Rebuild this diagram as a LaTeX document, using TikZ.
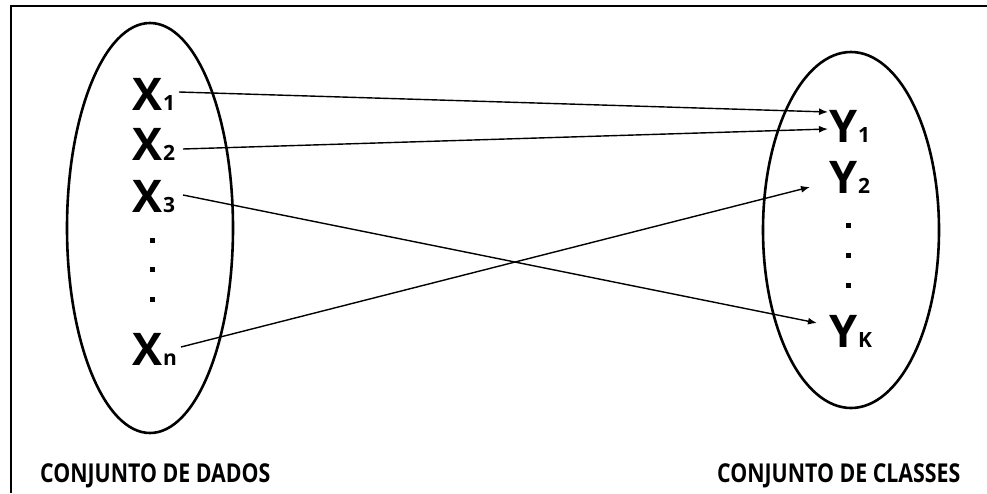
\documentclass[tikz,border=0pt]{standalone}
\usepackage{fontspec}
\setmainfont{Open Sans}
\usetikzlibrary{arrows.meta,shapes.geometric}
\newcommand{\bigsym}[2]{{\fontsize{45}{45}\selectfont #1}{\fontsize{21}{21}\selectfont\kern1pt #2}}
\tikzset{
  setshape/.style={draw=black, line width=2.6pt},
  sym/.style={anchor=base west, inner sep=0pt, outer sep=0pt, font=\bfseries},
  dotmark/.style={fill=black, rectangle, minimum size=5pt, inner sep=0pt},
  mapto/.style={line width=1.4pt, -{Latex[length=9pt,width=7pt]}},
  caption/.style={anchor=base west, inner sep=0pt, xscale=0.82, font=\fontsize{26}{26}\selectfont\bfseries},
  frameline/.style={line width=1.8pt}
}
\begin{document}
\begin{tikzpicture}[x=1pt, y=-1pt]
  \useasboundingbox (0,0) rectangle (987,493);
  % outer frame (left and top edges)
  \draw[frameline] (11,493) -- (11,6) -- (987,6);

  % the two sets
  \node[setshape, ellipse, minimum width=166pt, minimum height=410pt, inner sep=0pt] (dados) at (150,228) {};
  \node[setshape, ellipse, minimum width=176pt, minimum height=356pt, inner sep=0pt] (classes) at (851,230) {};

  % data elements
  \node[sym] (x1) at (132,110) {\bigsym{X}{1}};
  \node[sym] (x2) at (132,160) {\bigsym{X}{2}};
  \node[sym] (x3) at (132,212) {\bigsym{X}{3}};
  \node[dotmark] (xd1) at (152,240) {};
  \node[dotmark] (xd2) at (152,269) {};
  \node[dotmark] (xd3) at (152,299) {};
  \node[sym] (xn) at (132,365) {\bigsym{X}{n}};

  % class elements
  \node[sym] (y1) at (829,142) {\bigsym{Y}{1}};
  \node[sym] (y2) at (829,193) {\bigsym{Y}{2}};
  \node[dotmark] (yd1) at (848,225) {};
  \node[dotmark] (yd2) at (848,255) {};
  \node[dotmark] (yd3) at (848,285) {};
  \node[sym] (yk) at (829,347) {\bigsym{Y}{K}};

  % connector end points
  \coordinate (x1out) at (179,92);
  \coordinate (x2out) at (183,149);
  \coordinate (x3out) at (183,195);
  \coordinate (xnout) at (181,347);
  \coordinate (y1inA) at (828,112);
  \coordinate (y1inB) at (828,129);
  \coordinate (y2in) at (810,187);
  \coordinate (ykin) at (817,323);

  % mapping
  \draw[mapto] (x1out) -- (y1inA);
  \draw[mapto] (x2out) -- (y1inB);
  \draw[mapto] (x3out) -- (ykin);
  \draw[mapto] (xnout) -- (y2in);

  % captions
  \node[caption] (capdados) at (40,482) {CONJUNTO DE DADOS};
  \node[caption] (capclasses) at (717,482) {CONJUNTO DE CLASSES};
\end{tikzpicture}
\end{document}
